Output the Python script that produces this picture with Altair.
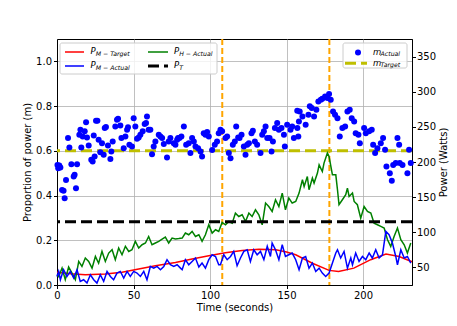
import altair as alt
import pandas as pd

# ---------------- data ----------------
# m_Actual scatter: time (s) and proportion of power
m_time = [0.3, 0.8, 1.5, 2.2, 3.3, 4.3, 5.0, 5.9, 7.2, 8.1, 9.4, 10.9, 11.5, 12.4, 13.1, 14.6, 15.3, 15.9,
          16.8, 18.1, 19.0, 19.6, 20.7, 22.4, 23.3, 24.0, 24.6, 25.5, 26.4, 27.2, 28.3, 29.4, 30.5,
          31.2, 32.0, 33.3, 34.9, 35.5, 36.4, 38.1, 39.2, 39.9, 41.4, 42.1, 43.6, 44.7, 45.8, 46.4,
          47.3, 49.0, 50.1, 51.2, 52.3, 53.4, 54.5, 56.0, 57.3, 58.2, 58.8, 59.9, 61.0, 62.1, 63.2,
          64.3, 66.5, 67.6, 68.7, 69.8, 71.9, 73.0, 74.1, 76.3, 77.4, 78.5, 80.0,
          79.1, 81.3, 82.9, 84.4, 86.1, 87.2, 88.3, 89.4, 90.5, 92.2, 93.8, 94.8, 95.9, 97.0, 98.1,
          99.2, 101.4, 103.1, 104.6, 105.7, 106.8, 107.9, 110.1, 111.2, 112.3, 113.4, 114.9, 116.2,
          117.1, 118.4, 119.3, 120.6, 122.1, 123.2, 124.3, 125.4, 127.1, 128.0, 129.3, 130.8, 133.0,
          134.1, 135.2, 136.3, 137.4, 138.9, 140.2, 141.1, 142.4, 143.9, 145.0, 146.7, 148.3, 148.9,
          150.4, 152.6, 153.7, 154.8, 157.0, 158.1,
          157.1, 157.7, 158.6, 160.4, 162.5, 164.3, 165.2, 166.5, 168.0, 169.5, 170.8, 172.4, 173.4,
          175.2, 176.7, 177.8, 178.9, 180.4, 181.7, 183.3, 184.8, 186.5, 188.3, 189.8, 191.3, 192.6,
          194.2, 195.2, 197.0, 197.9, 200.7, 201.8, 204.0, 205.7, 206.6, 207.9, 209.4, 211.6, 213.1,
          214.4, 215.3, 217.5, 218.8, 219.7, 221.4, 222.5, 223.6, 224.0, 225.8, 229.0, 230.1, 231.2]
m_actual = [0.537, 0.522, 0.534, 0.525, 0.425, 0.421, 0.388, 0.470, 0.657, 0.615, 0.540, 0.485, 0.493,
            0.433, 0.540, 0.672, 0.694, 0.615, 0.664, 0.687, 0.728, 0.660, 0.624, 0.560, 0.552, 0.669,
            0.575, 0.734, 0.734, 0.649, 0.594, 0.634, 0.582, 0.702, 0.706, 0.624, 0.563, 0.597, 0.642,
            0.709, 0.739, 0.743, 0.713, 0.657, 0.612, 0.664, 0.694, 0.705, 0.627, 0.619, 0.746, 0.709,
            0.654, 0.660, 0.672, 0.687, 0.720, 0.724, 0.754, 0.694, 0.694, 0.585, 0.619, 0.642, 0.672,
            0.664, 0.657, 0.630, 0.570, 0.642, 0.657, 0.634, 0.627, 0.649, 0.657,
            0.657, 0.664, 0.709, 0.627, 0.634, 0.590, 0.657, 0.642, 0.619, 0.612, 0.597, 0.575, 0.679,
            0.672, 0.684, 0.664, 0.604, 0.627, 0.642, 0.679, 0.694, 0.687, 0.657, 0.664, 0.590, 0.567,
            0.627, 0.642, 0.709, 0.660, 0.657, 0.672, 0.619, 0.582, 0.627, 0.634, 0.679, 0.690, 0.642,
            0.627, 0.590, 0.672, 0.687, 0.709, 0.657, 0.657, 0.597, 0.642, 0.702, 0.724, 0.694, 0.702,
            0.672, 0.619, 0.717, 0.694, 0.709, 0.657, 0.779, 0.731,
            0.702, 0.664, 0.776, 0.754, 0.717, 0.761, 0.799, 0.791, 0.754, 0.784, 0.821, 0.828, 0.833,
            0.843, 0.836, 0.854, 0.828, 0.776, 0.761, 0.746, 0.664, 0.702, 0.709, 0.776, 0.784, 0.746,
            0.731, 0.679, 0.672, 0.634, 0.702, 0.679, 0.687, 0.694, 0.627, 0.590, 0.612, 0.634, 0.657,
            0.605, 0.530, 0.500, 0.466, 0.537, 0.545, 0.657, 0.627, 0.545, 0.537, 0.500, 0.605, 0.545]

m_target = 0.6          # proportion
p_threshold = 115       # Watts, P_T
event_times = [108, 178]

red_time = [0, 9, 18.5, 31.6, 42.5, 53.4, 64.3, 77.4, 88.3, 99.2, 110, 121, 132, 143, 150, 156,
            166.9, 177.8, 184, 194, 205, 215, 223.6, 232]
red_watts = [43, 41, 39.6, 40.6, 43, 47.7, 52.4, 57, 62, 66.6, 71, 74, 76, 75, 72, 68,
             56, 45.8, 44.3, 49, 61, 69, 65.6, 58]

green_time = [0, 1.1, 3.3, 5.4, 7.6, 9.8, 12, 14.2, 16.3, 18.5, 20.7, 22.9, 25.1, 27.2, 29.4, 31.6,
              33.8, 36, 38.1, 40.3, 42.5, 44.7, 46.9, 49, 51.2, 53.4, 55.6, 57.8, 59.9, 62.1, 64.3,
              66.5, 68.7, 70.8, 73, 75.2, 77.4, 79.6, 81.8, 83.9, 86.1, 88.3, 90.5, 92.7, 94.8, 97,
              99.2, 101.4, 103.6, 105.7, 107.9, 110.1, 112.3, 114.5, 116.6, 118.8, 121, 123.2, 125.4,
              127.5, 129.7, 131.9, 134.1, 136.3, 138.4, 140.6, 142.8, 145, 147.2, 149.3, 151.5, 153.7,
              156, 158.2, 160.4, 161.5, 163.6, 164.7, 166.9, 168, 170.2, 171.3, 173.4, 174.5, 176.7,
              177.8, 180, 182.2, 183.3, 184.3, 186.5, 188.7, 189.8, 190.9, 193.1, 194.2, 196.3, 198.5,
              200.7, 202.9, 205.1, 207.2, 209.4, 211.6, 213.8, 216, 218.1, 220.3, 222.5, 224.7, 226.9,
              229, 231.2]
green_watts = [40, 37, 49, 32.5, 50.5, 42, 32.5, 58.5, 51.4, 63.4, 58.5, 49, 65.6, 56, 72.8, 58.5,
               70.4, 75.2, 61, 77.6, 68, 80, 72.8, 75.2, 87, 77.6, 82.3, 84.7, 94, 82.3, 84.7,
               87, 90.4, 93.2, 84.7, 91.8, 90.4, 91, 91.8, 98.9, 96.5, 101.2, 94, 96.5, 87, 96.5,
               110.7, 98.9, 103.6, 101.2, 114, 110.7, 115.4, 113, 127.3, 122.5, 125, 115.4, 127.3,
               122.5, 132, 125, 110.7, 141.6, 136.7, 129.6, 146.3, 136.7, 155.8, 132, 148.7, 141.6,
               143.8, 155.8, 174.7, 165.2, 179.4, 160.5, 177.1, 170, 184.2, 196, 186.5, 198.4, 212.7,
               207.8, 181.8, 181.8, 160.5, 139.2, 146.3, 153.4, 162.9, 151, 155.8, 143.8, 139.2, 120.2,
               136.7, 129.6, 127.3, 113, 110.7, 108.3, 106, 89.4, 79.9, 94, 106, 89.4, 82.3,
               70.5, 84.7]

blue_time = [0, 1.1, 2.2, 4.3, 6.5, 8.7, 10.9, 13.1, 15.2, 17.4, 19.6, 21.8, 24, 26.1, 28.3, 30.5,
             32.7, 34.9, 37, 39.2, 41.4, 43.6, 45.8, 47.9, 50.1, 52.3, 54.5, 56.7, 58.8, 61, 63.2,
             65.4, 67.6, 69.8, 71.9, 74.1, 76.3, 78.5, 80.7, 81.8, 83.9, 86.1, 88.3, 90.5, 92.7, 94.8,
             97, 99.2, 101.4, 103.6, 105.7, 106.8, 109, 111.2, 113.4, 115.5, 117.7, 119.9, 122.1,
             124.3, 126.4, 128.6, 130.8, 133, 135.2, 137.4, 139.5, 140.6, 142.8, 145, 147.2, 149.3,
             151.5, 153.7, 156, 158.2, 160.4, 162.5, 164.7, 166.9, 169.1, 171.3, 173.4, 175.6, 177.8,
             180, 182.2, 183.3, 185.4, 187.6, 189.8, 192, 193.1, 195.2, 197.4, 199.6, 201.8, 204,
             206.1, 208.3, 210.5, 212.7, 214.9, 217, 219.2, 221.4, 222.5, 224.7, 226.9, 229, 231.2]
blue_watts = [37.2, 44.3, 32.5, 46.7, 37.2, 44.3, 34.9, 46.7, 30.1, 32.5, 27.8, 39.6, 32.5, 27.8,
              39.6, 30.1, 44.3, 37.2, 32.5, 42, 44.3, 34.9, 44.3, 37.2, 44.3, 42, 37.2, 44.3, 32.5,
              51.4, 49, 51.4, 46.7, 51.4, 61, 53.8, 51.4, 53.8, 49, 46.7, 61, 53.8, 58.5, 63.4, 50.5,
              56.2, 49, 61, 68, 65.6, 53.8, 53.8, 68, 61, 65.6, 72.8, 52.4, 63.4, 72.8, 75.2, 58.5,
              75.2, 68, 72.8, 61, 80, 65.6, 84.7, 75.2, 61, 82.3, 65.6, 68, 70.4, 61, 46.7, 63.4,
              65.6, 49, 56.2, 44.3, 49, 42, 37.2, 42, 56.2, 70.5, 75.2, 63.4, 72.8, 49, 63.4, 53.8,
              70.5, 58.5, 65.6, 61, 70.5, 63.4, 75.2, 63.4, 68, 101.2, 96.5, 84.7, 65.6, 53.8, 75.2,
              63.4, 65.6, 56.2]

x_ticks = [0, 50, 100, 150, 200]
left_ticks = [0.0, 0.2, 0.4, 0.6, 0.8, 1.0]
right_ticks = [50, 100, 150, 200, 250, 300, 350]

# ---------------- styling ----------------
FONT = "DejaVu Sans"
RED, BLUE, GREEN, BLACK = "#ff0000", "#0000ff", "#008000", "#000000"
YELLOW, ORANGE = "#bfbf00", "#ffa500"

x_scale = alt.Scale(domain=[0, 232], nice=False, zero=False)
x_axis = alt.Axis(title="Time (seconds)", values=x_ticks, grid=True, labelFlush=False,
                  format="d", titlePadding=2)
yl_scale = alt.Scale(domain=[0, 1.1], nice=False, zero=False)
yl_axis = alt.Axis(title="Proportion of power (m)", values=left_ticks, format=".1f",
                   grid=True, orient="left", titlePadding=3)
yr_scale = alt.Scale(domain=[25, 375], nice=False, zero=False)
yr_axis = alt.Axis(title="Power (Watts)", values=right_ticks, grid=False, orient="right",
                   titleAngle=270, titleBaseline="top", titlePadding=3, labelPadding=1)

X = alt.X("t:Q", scale=x_scale, axis=x_axis)

df_m = pd.DataFrame({"t": m_time, "m": m_actual})
scatter = alt.Chart(df_m).mark_circle(size=36, color=BLUE, opacity=1).encode(
    x=X, y=alt.Y("m:Q", scale=yl_scale, axis=yl_axis))
target_rule = alt.Chart(pd.DataFrame({"m": [m_target]})).mark_rule(
    color=YELLOW, strokeWidth=3, strokeDash=[11, 5]).encode(
    y=alt.Y("m:Q", scale=yl_scale, axis=yl_axis))
events = alt.Chart(pd.DataFrame({"t": event_times})).mark_rule(
    color=ORANGE, strokeWidth=2, strokeDash=[6, 3]).encode(x=X)
left = alt.layer(events, target_rule, scatter)


def power_line(times, watts, color):
    return alt.Chart(pd.DataFrame({"t": times, "W": watts})).mark_line(
        color=color, strokeWidth=1.5).encode(
        x=X, y=alt.Y("W:Q", scale=yr_scale, axis=yr_axis))


pt_rule = alt.Chart(pd.DataFrame({"W": [p_threshold]})).mark_rule(
    color=BLACK, strokeWidth=3, strokeDash=[11, 5]).encode(
    y=alt.Y("W:Q", scale=yr_scale, axis=yr_axis))
right = alt.layer(
    power_line(red_time, red_watts, RED),
    power_line(green_time, green_watts, GREEN),
    power_line(blue_time, blue_watts, BLUE),
    pt_rule,
)

# ---------------- legends (drawn as marks, positions in plot pixels) ----------------
dummy = pd.DataFrame({"d": [0]})
leg = []


def box(x1, x2, y1, y2):
    return alt.Chart(dummy).mark_rect(fill="white", fillOpacity=0.8, stroke="#cccccc",
                                      strokeWidth=1, cornerRadius=2).encode(
        x=alt.value(x1), x2=alt.value(x2), y=alt.value(y1), y2=alt.value(y2))


def handle(x1, x2, y, color, width=1.5, dash=None):
    kw = dict(color=color, strokeWidth=width)
    if dash:
        kw["strokeDash"] = dash
    return alt.Chart(dummy).mark_rule(**kw).encode(
        x=alt.value(x1), x2=alt.value(x2), y=alt.value(y))


def label(x, y, main, sub, main_w):
    a = alt.Chart(dummy).mark_text(text=main, font=FONT, fontStyle="italic", fontSize=8.5,
                                   align="left", baseline="middle", color="black").encode(
        x=alt.value(x), y=alt.value(y))
    b = alt.Chart(dummy).mark_text(text=sub, font=FONT, fontStyle="italic", fontSize=6.2,
                                   align="left", baseline="middle", color="black").encode(
        x=alt.value(x + main_w), y=alt.value(y + 2.8))
    return [a, b]


leg.append(box(3, 160, 4, 35))
leg.append(handle(8, 27, 13, RED))
leg += label(33.5, 12, "P", "M − Target", 5.2)
leg.append(handle(8, 27, 27, BLUE))
leg += label(33.5, 26, "P", "M − Actual", 5.2)
leg.append(handle(91, 111, 13, GREEN))
leg += label(117, 12, "P", "H − Actual", 5.2)
leg.append(handle(91, 111, 27, BLACK, 3, [11, 5]))
leg += label(117, 26, "P", "T", 5.2)

leg.append(box(286, 350, 4, 29))
leg.append(alt.Chart(dummy).mark_point(filled=True, size=36, color=BLUE, opacity=1).encode(
    x=alt.value(301), y=alt.value(13.5)))
leg.append(handle(288, 310, 24.3, YELLOW, 3, [11, 5]))
leg += label(316, 12.5, "m", "Actual", 7.6)
leg += label(316, 23.5, "m", "Target", 7.6)
legend = alt.layer(*leg)

chart = alt.layer(left, right, legend).resolve_scale(y="independent").properties(
    width=355, height=246,
    autosize=alt.AutoSizeParams(type="none"),
    padding={"left": 49, "top": 31, "right": 37, "bottom": 29},
).configure_axis(
    labelFont=FONT, titleFont=FONT, labelFontSize=10, titleFontSize=10,
    titleFontWeight="normal", labelColor="black", titleColor="black",
    tickColor="black", domainColor="black", tickSize=3.5, labelPadding=2,
    gridColor="#b0b0b0", gridWidth=0.8,
).configure_view(stroke="black", strokeWidth=1)

chart.save("out.html", embed_options={"renderer": "svg", "actions": False})
